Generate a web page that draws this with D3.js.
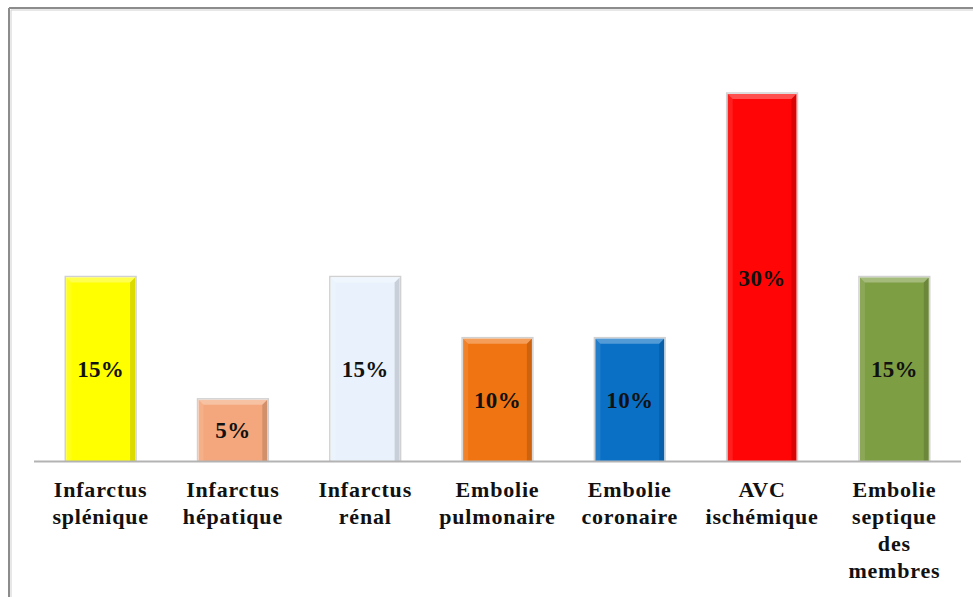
<!DOCTYPE html>
<html>
<head>
<meta charset="utf-8">
<script src="https://cdn.jsdelivr.net/npm/d3@7"></script>
<style>
  html, body { margin: 0; padding: 0; background: #fff; }
  svg { display: block; }
</style>
</head>
<body>
<svg id="chart" width="973" height="597"></svg>
<script>
// Complications emboliques (%)
const categories = [
  ["Infarctus", "splénique"],
  ["Infarctus", "hépatique"],
  ["Infarctus", "rénal"],
  ["Embolie", "pulmonaire"],
  ["Embolie", "coronaire"],
  ["AVC", "ischémique"],
  ["Embolie", "septique", "des", "membres"]
];
const values = [15, 5, 15, 10, 10, 30, 15];
const barColors = ["#FFFF00", "#F4A77C", "#E9F2FC", "#F07412", "#0A70C6", "#FF0505", "#7E9E44"];
const valueLabels = values.map(v => v + "%");

const svg = d3.select("#chart");
const W = 973, H = 597;

// Frame
svg.append("line").attr("x1", 9).attr("y1", 8).attr("x2", W).attr("y2", 8)
  .attr("stroke", "#8c8c8c").attr("stroke-width", 2);
svg.append("line").attr("x1", 9).attr("y1", 8).attr("x2", 9).attr("y2", H)
  .attr("stroke", "#8c8c8c").attr("stroke-width", 2);
svg.append("line").attr("x1", 11).attr("y1", 10).attr("x2", W).attr("y2", 10)
  .attr("stroke", "#d0d0d0").attr("stroke-width", 1);
svg.append("line").attr("x1", 11).attr("y1", 10).attr("x2", 11).attr("y2", H)
  .attr("stroke", "#d0d0d0").attr("stroke-width", 1);

const x = d3.scaleBand()
  .domain(d3.range(categories.length))
  .range([34.5, 960.5])
  .paddingInner(0.48)
  .paddingOuter(0.24);

const y = d3.scaleLinear().domain([0, 30]).range([461, 94]);

const bevel = 5;
const g = svg.append("g");

const bars = g.selectAll("g.bar").data(values).join("g").attr("class", "bar");

bars.each(function (v, i) {
  const sel = d3.select(this);
  const x0 = x(i), x1 = x(i) + x.bandwidth();
  const y0 = y(v), y1 = y(0);
  const b = bevel;
  // soft shadow outline
  sel.append("rect").attr("x", x0 - 1).attr("y", y0 - 1)
    .attr("width", x1 - x0 + 2).attr("height", y1 - y0 + 1)
    .attr("fill", "none").attr("stroke", "#000").attr("stroke-opacity", 0.18).attr("stroke-width", 1.5);
  sel.append("rect").attr("x", x0).attr("y", y0)
    .attr("width", x1 - x0).attr("height", y1 - y0)
    .attr("fill", barColors[i]);
  const poly = (pts, fill, op) => sel.append("polygon")
    .attr("points", pts.map(p => p.join(",")).join(" "))
    .attr("fill", fill).attr("fill-opacity", op);
  // top highlight
  poly([[x0, y0], [x1, y0], [x1 - b, y0 + b], [x0 + b, y0 + b]], "#fff", 0.3);
  // left edge
  poly([[x0, y0], [x0 + b, y0 + b], [x0 + b, y1], [x0, y1]], "#fff", 0.1);
  // right edge
  poly([[x1, y0], [x1, y1], [x1 - b, y1], [x1 - b, y0 + b]], "#000", 0.14);
});

// Baseline
svg.append("line").attr("x1", 34).attr("x2", 961).attr("y1", 461.5).attr("y2", 461.5)
  .attr("stroke", "#b3b3b3").attr("stroke-width", 2);

// Value labels
g.selectAll("text.val").data(values).join("text")
  .attr("class", "val")
  .attr("x", (d, i) => x(i) + x.bandwidth() / 2)
  .attr("y", d => (y(d) + y(0)) / 2)
  .attr("dy", "0.35em")
  .attr("text-anchor", "middle")
  .attr("font-family", "'Liberation Serif', 'Times New Roman', serif")
  .attr("font-weight", "bold")
  .attr("font-size", 23)
  .attr("letter-spacing", 0.3)
  .attr("fill", "#111")
  .text((d, i) => valueLabels[i]);

// Category labels
const cat = svg.selectAll("text.cat").data(categories).join("text")
  .attr("class", "cat")
  .attr("text-anchor", "middle")
  .attr("font-family", "'Liberation Serif', 'Times New Roman', serif")
  .attr("font-weight", "bold")
  .attr("font-size", 22)
  .attr("letter-spacing", 0.8)
  .attr("fill", "#111");
cat.each(function (lines, i) {
  const t = d3.select(this);
  lines.forEach((ln, k) => {
    t.append("tspan")
      .attr("x", x(i) + x.bandwidth() / 2)
      .attr("y", 497 + k * 27)
      .text(ln);
  });
});
</script>
</body>
</html>
